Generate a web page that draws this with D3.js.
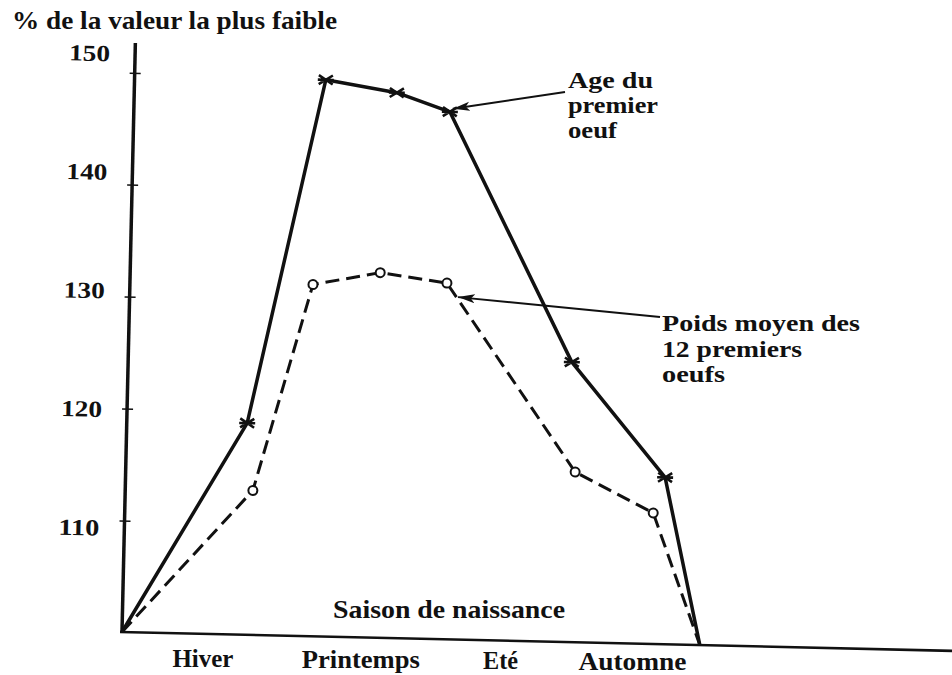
<!DOCTYPE html>
<html><head><meta charset="utf-8">
<script src="https://cdn.jsdelivr.net/npm/d3@7"></script>
<style>
body{margin:0;background:#fff}
text{font-family:'Liberation Serif','Times New Roman',Times,serif;font-weight:700;fill:#111}
</style>
</head><body>
<svg id="c" width="952" height="675"></svg>
<script>
// ---- data ----
const seasons = ["Hiver", "Printemps", "Eté", "Automne"];
const seasonPos = [1.68, 4.96, 7.86, 10.6];          // where each season label sits on the month axis
const yTicks = [110, 120, 130, 140, 150];
const ageX = [0, 2.5, 3.97, 5.45, 6.56, 9.21, 11.2, 12];
const ageY = [100, 118.9, 149.7, 148.7, 147.1, 125.0, 114.9, 100];
const poidsX = [0, 2.65, 3.8, 5.19, 6.58, 9.33, 10.97, 12];
const poidsY = [100, 112.9, 131.4, 132.6, 131.8, 115.2, 111.7, 100];
const titleText = "% de la valeur la plus faible";
const xTitle = "Saison de naissance";
const ageLabel = ["Age du", "premier", "oeuf"];
const poidsLabel = ["Poids moyen des", "12 premiers", "oeufs"];

// ---- layout ----
const svg = d3.select("#c");
const ox = 122, oy = 632, ang = 1.3;
const rad = ang * Math.PI / 180, cs = Math.cos(rad), sn = Math.sin(rad);
const toImg = (u, v) => [ox + u * cs - v * sn, oy + u * sn + v * cs];
const x = d3.scaleLinear().domain([0, 12]).range([0, 578]);
const y = d3.scaleLinear().domain([100, 150]).range([0, -560]);
const labelY = d3.scaleLinear().domain([110, 150]).range([-103.4, -577.8]);

svg.append("rect").attr("width", 952).attr("height", 675).attr("fill", "#fff");

const defs = svg.append("defs");
defs.append("marker").attr("id", "ah").attr("markerUnits", "userSpaceOnUse")
  .attr("markerWidth", 18).attr("markerHeight", 10).attr("refX", 17).attr("refY", 4.5)
  .attr("orient", "auto")
  .append("path").attr("d", "M0,0 L17,4.5 L0,9 L4,4.5 Z").attr("fill", "#111");

// title
svg.append("text").attr("x", 12).attr("y", 29).attr("font-size", 25)
  .attr("textLength", 325).attr("lengthAdjust", "spacingAndGlyphs").text(titleText);

const g = svg.append("g").attr("transform", `translate(${ox},${oy}) rotate(${ang})`);

// axes
g.append("line").attr("x1", 0).attr("y1", 1).attr("x2", 0).attr("y2", y(152.6))
  .attr("stroke", "#111").attr("stroke-width", 3.5);
g.append("line").attr("x1", -2).attr("y1", 0).attr("x2", 840).attr("y2", 0)
  .attr("stroke", "#111").attr("stroke-width", 2.6);
g.selectAll(".tk").data(yTicks).join("line").attr("class", "tk")
  .attr("x1", -5).attr("x2", 6).attr("y1", d => y(d - 0.1)).attr("y2", d => y(d - 0.1))
  .attr("stroke", "#111").attr("stroke-width", 1.5);
g.selectAll(".tl").data(yTicks).join("text").attr("class", "tl")
  .attr("x", -25).attr("y", d => labelY(d)).attr("text-anchor", "end")
  .attr("dominant-baseline", "central").attr("font-size", 23)
  .attr("textLength", 41).attr("lengthAdjust", "spacingAndGlyphs").text(d => d);

// lines
const line = d3.line().x(d => x(d[0])).y(d => y(d[1]));
const agePts = ageX.map((v, i) => [v, ageY[i]]);
const poidsPts = poidsX.map((v, i) => [v, poidsY[i]]);
g.append("path").attr("d", line(poidsPts)).attr("fill", "none").attr("stroke", "#111")
  .attr("stroke-width", 3).attr("stroke-dasharray", "14,7").attr("stroke-linejoin", "round");
g.append("path").attr("d", line(agePts)).attr("fill", "none").attr("stroke", "#111")
  .attr("stroke-width", 3.5).attr("stroke-linejoin", "round");

// markers
const star = "M-7,-4.5L7,4.5M-7,4.5L7,-4.5M-8,0L8,0";
g.selectAll(".st").data(agePts.slice(1, -1)).join("path").attr("class", "st")
  .attr("transform", d => `translate(${x(d[0])},${y(d[1])})`).attr("d", star)
  .attr("stroke", "#111").attr("stroke-width", 2.6).attr("fill", "none");
g.selectAll(".ci").data(poidsPts.slice(1, -1)).join("circle").attr("class", "ci")
  .attr("cx", d => x(d[0])).attr("cy", d => y(d[1])).attr("r", 4.5)
  .attr("fill", "#fff").attr("stroke", "#111").attr("stroke-width", 2);

// x labels
const xw = {"Hiver": 61, "Printemps": 118, "Eté": 35, "Automne": 108};
svg.selectAll(".xl").data(seasons).join("text").attr("class", "xl")
  .attr("x", (d, i) => toImg(x(seasonPos[i]), 0)[0]).attr("y", (d, i) => 667 + i)
  .attr("text-anchor", "middle").attr("font-size", 25)
  .attr("textLength", d => xw[d]).attr("lengthAdjust", "spacingAndGlyphs").text(d => d);
svg.append("text").attr("x", 333).attr("y", 618).attr("font-size", 25)
  .attr("textLength", 232).attr("lengthAdjust", "spacingAndGlyphs").text(xTitle);

// annotations
const ageW = [85, 90, 49], poidsW = [198, 140, 63];
svg.selectAll(".al").data(ageLabel).join("text").attr("class", "al")
  .attr("x", 568).attr("y", (d, i) => 88 + i * 25).attr("font-size", 23)
  .attr("textLength", (d, i) => ageW[i]).attr("lengthAdjust", "spacingAndGlyphs").text(d => d);
svg.selectAll(".pl").data(poidsLabel).join("text").attr("class", "pl")
  .attr("x", 662).attr("y", (d, i) => 331 + i * 25.5).attr("font-size", 23)
  .attr("textLength", (d, i) => poidsW[i]).attr("lengthAdjust", "spacingAndGlyphs").text(d => d);

const ageTip = toImg(x(ageX[4]), y(ageY[4]));
const poidsTip = toImg(x(poidsX[4]), y(poidsY[4]));
svg.append("line").attr("x1", 565).attr("y1", 92).attr("x2", ageTip[0] + 3).attr("y2", ageTip[1] - 3)
  .attr("stroke", "#111").attr("stroke-width", 2).attr("marker-end", "url(#ah)");
svg.append("line").attr("x1", 660).attr("y1", 317).attr("x2", poidsTip[0] + 11).attr("y2", poidsTip[1] + 14)
  .attr("stroke", "#111").attr("stroke-width", 2).attr("marker-end", "url(#ah)");
</script>
</body></html>
